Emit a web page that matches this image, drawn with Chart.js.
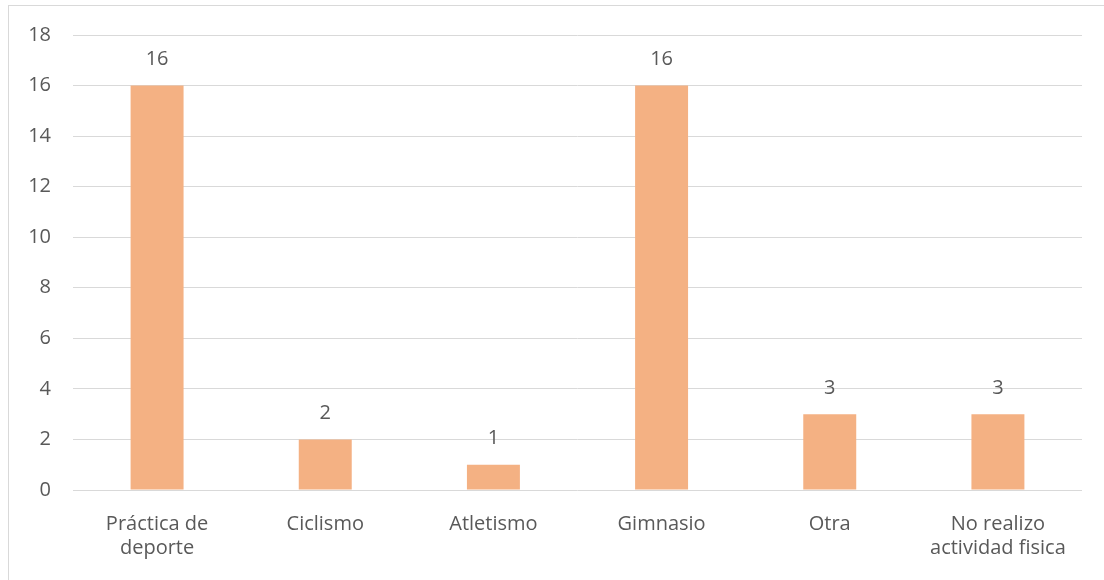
<!DOCTYPE html>
<html>
<head>
<meta charset="utf-8">
<script src="https://cdn.jsdelivr.net/npm/chart.js@4"></script>
<style>
  html, body { margin: 0; padding: 0; background: #fff; }
  #frame {
    position: absolute; left: 8px; top: 5px; width: 1200px; height: 700px;
    border-left: 1px solid #d9d9d9; border-top: 1px solid #d9d9d9;
  }
  #wrap { position: absolute; left: 0; top: 0; width: 1104px; height: 580px; }
</style>
</head>
<body>
<div id="frame"></div>
<div id="wrap"><canvas id="bar-chart"></canvas></div>
<script>
const categories = [
	["Práctica de", "deporte"],
	"Ciclismo",
	"Atletismo",
	"Gimnasio",
	"Otra",
	["No realizo", "actividad fisica"],
];
const counts = [16, 2, 1, 16, 3, 3];
const yTicks = [0, 2, 4, 6, 8, 10, 12, 14, 16, 18];

const textColor = "#595959";
const fontFamily = "'Open Sans', sans-serif";

// writes each count just above its bar
const valueLabels = {
	id: "valueLabels",
	afterDatasetsDraw(chart) {
		const ctx = chart.ctx;
		const meta = chart.getDatasetMeta(0);
		ctx.save();
		ctx.fillStyle = textColor;
		ctx.font = "20px " + fontFamily;
		ctx.textAlign = "center";
		ctx.textBaseline = "middle";
		meta.data.forEach((bar, i) => {
			ctx.fillText(String(counts[i]), bar.x, bar.y - 26);
		});
		ctx.restore();
	},
};

new Chart(document.getElementById("bar-chart"), {
	type: "bar",
	data: {
		labels: categories,
		datasets: [
			{
				data: counts,
				backgroundColor: "#f4b183",
				barPercentage: 0.315,
				categoryPercentage: 1,
			},
		],
	},
	options: {
		responsive: true,
		maintainAspectRatio: false,
		animation: false,
		layout: { padding: { top: 35, right: 22, left: 0, bottom: 0 } },
		plugins: {
			legend: { display: false },
			title: { display: false },
			tooltip: { enabled: false },
		},
		scales: {
			x: {
				grid: { display: false },
				border: { display: false },
				ticks: {
					color: textColor,
					font: { family: fontFamily, size: 20, lineHeight: 1.2 },
					padding: 14,
					maxRotation: 0,
					autoSkip: false,
				},
				afterFit(scale) { scale.height = 90; },
			},
			y: {
				min: 0,
				max: 18,
				afterBuildTicks(scale) {
					scale.ticks = yTicks.map((v) => ({ value: v }));
				},
				grid: { color: "#d9d9d9", lineWidth: 1, drawTicks: false },
				border: { display: false },
				ticks: {
					color: textColor,
					font: { family: fontFamily, size: 20 },
					padding: 22,
				},
				afterFit(scale) { scale.width = 73; },
			},
		},
	},
	plugins: [valueLabels],
});
</script>
</body>
</html>
